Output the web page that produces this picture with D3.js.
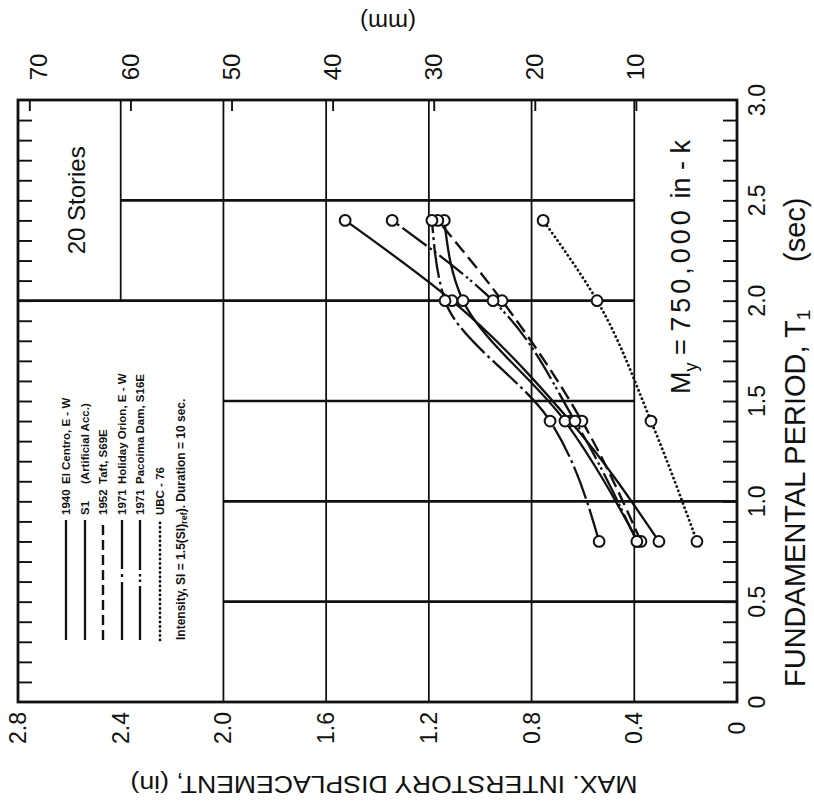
<!DOCTYPE html>
<html>
<head>
<meta charset="utf-8">
<script src="https://cdn.jsdelivr.net/npm/d3@7"></script>
<style>
  html, body { margin: 0; padding: 0; background: #fff; }
  svg { display: block; font-family: "Liberation Sans", Arial, Helvetica, sans-serif; }
</style>
</head>
<body>
<svg id="chart" width="814" height="805"></svg>
<script>
// Fundamental periods of the analysed frames (sec)
const periods = [0.8, 1.4, 2.0, 2.4];

// Max. interstory displacement (in) for each ground motion
const elCentro   = [0.304, 0.650, 1.110, 1.526];
const artificial = [0.386, 0.670, 1.067, 1.140];
const taft       = [0.374, 0.604, 0.915, 1.165];
const holiday    = [0.537, 0.728, 1.137, 1.188];
const pacoima    = [0.390, 0.631, 0.950, 1.343];
const ubc76      = [0.156, 0.335, 0.545, 0.755];

const seriesYears = ["1940", "S1", "1952", "1971", "1971", "UBC - 76"];
const seriesNames = ["El Centro, E - W", "(Artificial Acc.)", "Taft, S69E",
                     "Holiday Orion, E - W", "Pacoima Dam, S16E", ""];

const dispTicks    = [0, 0.4, 0.8, 1.2, 1.6, 2.0, 2.4, 2.8];
const dispLabels   = ["0", "0.4", "0.8", "1.2", "1.6", "2.0", "2.4", "2.8"];
const periodTicks  = [0, 0.5, 1.0, 1.5, 2.0, 2.5, 3.0];
const periodLabels = ["0", "0.5", "1.0", "1.5", "2.0", "2.5", "3.0"];
const mmTicks      = [10, 20, 30, 40, 50, 60, 70];

// ---- layout (the sheet is turned a quarter turn: period runs up, displacement runs left)
const L = 18, R = 737, T = 100, B = 702;
const xD  = d3.scaleLinear().domain([0, 2.8]).range([R, L]);          // inches -> screen x
const xMM = d3.scaleLinear().domain([0, 2.8 * 25.4]).range([R, L]);   // mm -> screen x
const yT  = d3.scaleLinear().domain([0, 3.0]).range([B, T]);          // period -> screen y

const svg = d3.select("#chart");
const ink = "#111";

const seriesData = [elCentro, artificial, taft, holiday, pacoima, ubc76];
const styles = [
  { dash: null,                 legend: null,                          width: 2.3, cap: "butt" },
  { dash: null,                 legend: null,                          width: 2.3, cap: "butt" },
  { dash: "14,6",               legend: "10,5",                        width: 2.4, cap: "butt" },
  { dash: "34,4,3,4",           legend: "58,5,3,5,80",                 width: 2.3, cap: "butt" },
  { dash: "30,4,2.5,3,2.5,4",   legend: "54,4,2.5,3,2.5,4,80",         width: 2.3, cap: "butt" },
  { dash: "0.1,4.4",            legend: "0.1,4.4",                     width: 2.8, cap: "round" }
];

// ---- grid
// below 2.0 sec and beyond 2.0 in is the legend panel; the title box sits beyond 2.4 in above 2.0 sec;
// the strip under 0.4 in above 1.5 sec is kept clear for the yield-moment note
const gridV = dispTicks.filter(d => d > 0 && d < 2.8);
const gridH = periodTicks.filter(d => d > 0 && d < 3.0);
const grid = svg.append("g").attr("stroke", ink).attr("fill", "none");
grid.selectAll("line.v").data(gridV).join("line")
  .attr("x1", d => xD(d)).attr("x2", d => xD(d))
  .attr("y1", yT(3.0))
  .attr("y2", d => d > 2.0 ? yT(2.0) : yT(0))
  .attr("stroke-width", 1.8);
grid.selectAll("line.h").data(gridH).join("line")
  .attr("y1", d => yT(d)).attr("y2", d => yT(d))
  .attr("x1", d => d >= 2.5 ? xD(2.4) : (d === 2.0 ? xD(2.8) : xD(2.0)))
  .attr("x2", d => d >= 1.5 ? xD(0.4) : xD(0))
  .attr("stroke-width", 2.7);

// ---- frame
svg.append("rect").attr("x", L).attr("y", T).attr("width", R - L).attr("height", B - T)
  .attr("fill", "none").attr("stroke", ink).attr("stroke-width", 2.8);

// ---- minor ticks every 0.1 sec on both period borders, pointing inward
const tenths = d3.range(1, 30).map(i => i / 10);
const rightAxis = svg.append("g").attr("transform", `translate(${R},0)`)
  .call(d3.axisLeft(yT).tickValues(tenths).tickSize(14).tickFormat(""));
const leftAxis = svg.append("g").attr("transform", `translate(${L},0)`)
  .call(d3.axisRight(yT).tickValues(tenths).tickSize(14).tickFormat(""));
// mm ticks along the top border
const topAxis = svg.append("g").attr("transform", `translate(0,${T})`)
  .call(d3.axisBottom(xMM).tickValues(mmTicks).tickSize(11).tickFormat(""));
[rightAxis, leftAxis, topAxis].forEach(g => {
  g.select(".domain").remove();
  g.selectAll(".tick line").attr("stroke", ink).attr("stroke-width", 1.9);
});

// ---- axis labels
const rotLabel = (g, x, y, txt, size, angle, anchor) =>
  g.append("text").attr("transform", `translate(${x},${y}) rotate(${angle})`)
    .attr("text-anchor", anchor || "middle").attr("dominant-baseline", "central")
    .attr("font-size", size).attr("fill", ink).text(txt);

const labels = svg.append("g");
dispTicks.forEach((d, i) => rotLabel(labels, xD(d), 728, dispLabels[i], 23, -90));
periodTicks.forEach((d, i) => rotLabel(labels, 757, yT(d), periodLabels[i], 23, -90));
// the 70 mm figure is nudged clear of the corner
mmTicks.forEach(d => rotLabel(labels, Math.max(xMM(d), 38), 67, String(d), 24, -90));

// displacement title (upside down) and mm unit
labels.append("text")
  .attr("transform", "translate(384,776) rotate(180)")
  .attr("text-anchor", "middle").attr("font-size", 24).attr("fill", ink)
  .attr("textLength", 507).attr("lengthAdjust", "spacingAndGlyphs")
  .text("MAX. INTERSTORY DISPLACEMENT, (in)");
rotLabel(labels, 388, 22, "(mm)", 24, 180);

// period title
const ptitle = labels.append("text")
  .attr("transform", "translate(805,687) rotate(-90)")
  .attr("font-size", 29).attr("fill", ink);
ptitle.append("tspan").text("FUNDAMENTAL PERIOD, T");
ptitle.append("tspan").attr("font-size", 19).attr("dy", 5).text("1");
labels.append("text")
  .attr("transform", "translate(805,262) rotate(-90)")
  .attr("font-size", 29).attr("fill", ink).text("(sec)");

// box title and yield moment note
rotLabel(labels, 76, yT(2.5), "20 Stories", 24, -90);
const my = labels.append("text")
  .attr("transform", "translate(690,394) rotate(-90)")
  .attr("font-size", 27).attr("fill", ink);
my.append("tspan").text("M");
my.append("tspan").attr("font-size", 18).attr("dy", 7).text("y");
my.append("tspan").attr("dy", -7).text(" = ");
my.append("tspan").attr("letter-spacing", 4).text("750,000");
my.append("tspan").text("  in - k");

// ---- series curves and markers
const line = d3.line()
  .x(d => xD(d.v)).y(d => yT(d.t))
  .curve(d3.curveMonotoneY);

const plot = svg.append("g");
seriesData.forEach((vals, i) => {
  const pts = periods.map((t, j) => ({ t, v: vals[j] }));
  const st = styles[i];
  plot.append("path").datum(pts)
    .attr("d", line)
    .attr("fill", "none").attr("stroke", ink)
    .attr("stroke-width", st.width)
    .attr("stroke-linecap", st.cap)
    .attr("stroke-dasharray", st.dash);
});
seriesData.forEach(vals => {
  plot.selectAll(null).data(periods.map((t, j) => ({ t, v: vals[j] }))).join("circle")
    .attr("cx", d => xD(d.v)).attr("cy", d => yT(d.t)).attr("r", 5.4)
    .attr("fill", "#fff").attr("stroke", ink).attr("stroke-width", 2);
});

// ---- legend panel
const legX = [66, 85, 103, 122, 140, 160];
const legend = svg.append("g");
seriesYears.forEach((yr, i) => {
  const st = styles[i];
  legend.append("line")
    .attr("x1", legX[i]).attr("x2", legX[i]).attr("y1", 640).attr("y2", 520)
    .attr("stroke", ink).attr("stroke-width", st.width)
    .attr("stroke-linecap", st.cap).attr("stroke-dasharray", st.legend);
  rotLabel(legend, legX[i], 515, yr, 11.5, -90, "start").attr("font-weight", "bold");
  if (seriesNames[i]) rotLabel(legend, legX[i], 484, seriesNames[i], 11.5, -90, "start").attr("font-weight", "bold");
});
const note = legend.append("text")
  .attr("transform", "translate(181,640) rotate(-90)")
  .attr("dominant-baseline", "central").attr("font-size", 12).attr("font-weight", "bold").attr("fill", ink);
note.append("tspan").text("Intensity, SI = 1.5(SI)");
note.append("tspan").attr("font-size", 9).attr("dy", 3).text("ref");
note.append("tspan").attr("dy", -3).text("). Duration = 10 sec.");
</script>
</body>
</html>
